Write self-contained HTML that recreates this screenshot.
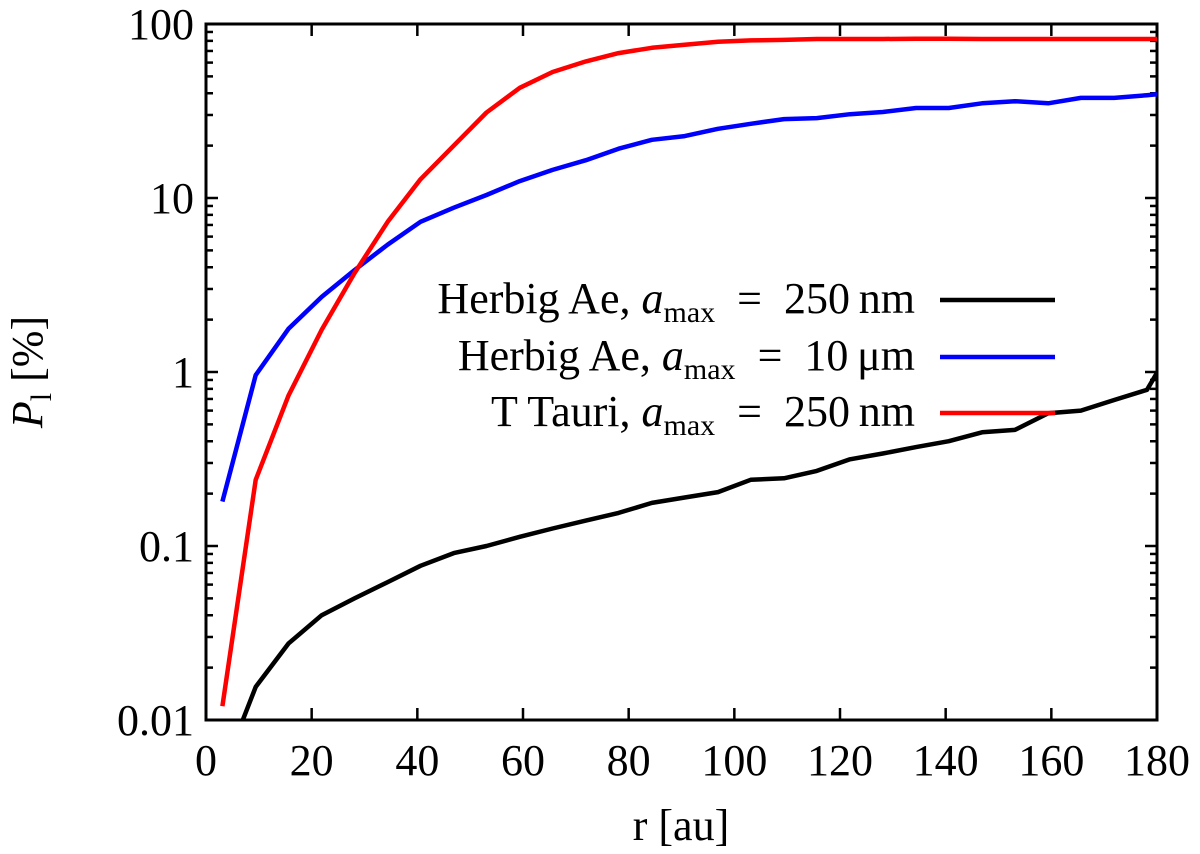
<!DOCTYPE html>
<html><head><meta charset="utf-8"><style>
body{margin:0;background:#fff;}
svg text{font-family:"Liberation Serif",serif;fill:#000;}
</style></head><body>
<svg id="chart" width="1200" height="849" viewBox="0 0 1200 849">
<defs><clipPath id="clip"><rect x="206" y="24" width="951" height="696"/></clipPath></defs>
<g id="axes"></g>
<g id="series" clip-path="url(#clip)"></g>
<g id="legend"></g>
</svg>
<script>
const radii = [3.1,9.4,15.6,21.9,28.1,34.4,40.6,46.9,53.1,59.4,65.6,71.9,78.1,84.4,90.6,96.9,103.1,109.4,115.6,121.9,128.1,134.4,140.6,146.9,153.1,159.4,165.6,171.9,178.1,180];
const herbig250 = [0.005,0.0155,0.0275,0.04,0.05,0.062,0.077,0.091,0.10,0.113,0.126,0.14,0.155,0.177,0.19,0.204,0.24,0.245,0.27,0.315,0.34,0.37,0.40,0.45,0.465,0.58,0.60,0.69,0.79,0.99];
const herbig10 = [0.18,0.96,1.77,2.7,3.85,5.4,7.3,8.8,10.4,12.5,14.5,16.5,19.2,21.6,22.7,25,26.7,28.4,28.8,30.3,31.2,32.9,32.9,35,36,35,37.6,37.6,39,39.5];
const ttauri = [0.012,0.24,0.73,1.75,3.7,7.3,12.8,20,31,43,53,61,68,73,76,79,80.5,81,82,82,82,82.3,82.3,82,82,82,82,82,82,82];
const xTicks = [0,20,40,60,80,100,120,140,160,180];
const yTicks = [0.01,0.1,1,10,100];
const yTickLabels = ["0.01","0.1","1","10","100"];
const legendLabels = ["Herbig Ae, ","Herbig Ae, ","T Tauri, "];
const legendValues = ["\u2002=\u2002250\u2009nm","\u2002=\u200210\u2009\u03bcm","\u2002=\u2002250\u2009nm"];

const L=206,R=1157,T=24,B=720;
const xs=v=>L+(v-0)/180*(R-L);
const ys=v=>B-(Math.log10(v)+2)/4*(B-T);
const NS="http://www.w3.org/2000/svg";
function mk(tag,attrs,parent){const e=document.createElementNS(NS,tag);for(const k in attrs)e.setAttribute(k,attrs[k]);parent.appendChild(e);return e;}
const axes=document.getElementById('axes');
const frame=mk('rect',{x:L,y:T,width:R-L,height:B-T,fill:'none',stroke:'#000','stroke-width':3},axes);


xTicks.forEach(t=>{
  const x=xs(t);
  const a=mk('line',{x1:x,x2:x,y1:B,y2:B-12,stroke:'#000','stroke-width':2.5},axes);
  
  
  const b=mk('line',{x1:x,x2:x,y1:T,y2:T+12,stroke:'#000','stroke-width':2.5},axes);
  
  
  const tx=mk('text',{x:x,y:775,'font-size':44,'text-anchor':'middle'},axes);
  tx.textContent=t;
  
  
});
yTicks.forEach((t,i)=>{
  const y=ys(t);
  [[L,L+12],[R,R-12]].forEach(p=>{
    const l=mk('line',{x1:p[0],x2:p[1],y1:y,y2:y,stroke:'#000','stroke-width':2.5},axes);
    
    
  });
  if(i<yTicks.length-1){
    for(let m=2;m<=9;m++){
      const yy=ys(t*m);
      [[L,L+7],[R,R-7]].forEach(p=>{
        const l=mk('line',{x1:p[0],x2:p[1],y1:yy,y2:yy,stroke:'#000','stroke-width':2.5},axes);
        
        
      });
    }
  }
  const tx=mk('text',{x:194,y:y+15,'font-size':44,'text-anchor':'end'},axes);
  tx.textContent=yTickLabels[i];
  
  
});
const xl=mk('text',{x:681,y:840,'font-size':44,'text-anchor':'middle'},axes);
xl.textContent='r [au]';


const yl=mk('text',{x:0,y:0,'font-size':44,'text-anchor':'middle',transform:'translate(42,372) rotate(-90)'},axes);
yl.innerHTML='<tspan font-style="italic">P</tspan><tspan font-size="30" dy="9">l</tspan><tspan dy="-9"> [%]</tspan>';



const ser=document.getElementById('series');
const allSeries=[[herbig250,'#000','line-herbig-250nm'],[herbig10,'#0000ff','line-herbig-10um'],[ttauri,'#ff0000','line-ttauri-250nm']];
allSeries.forEach(s=>{
  const d=radii.map((r,i)=>(i?'L':'M')+xs(r).toFixed(1)+','+ys(s[0][i]).toFixed(1)).join(' ');
  const p=mk('path',{d:d,fill:'none',stroke:s[1],'stroke-width':4.5,'stroke-linejoin':'round'},ser);
  
  
});
const lg=document.getElementById('legend');
const ly=[300,357,413];
allSeries.forEach((s,i)=>{
  const t=mk('text',{x:915,y:ly[i]+13,'font-size':44,'text-anchor':'end'},lg);
  t.innerHTML=legendLabels[i]+'<tspan font-style="italic">a</tspan><tspan font-size="30" dy="9">max</tspan><tspan dy="-9">'+legendValues[i]+'</tspan>';
  
  
  const l=mk('line',{x1:940,x2:1055,y1:ly[i],y2:ly[i],stroke:s[1],'stroke-width':4.5},lg);
  
  
});
</script>
</body></html>
